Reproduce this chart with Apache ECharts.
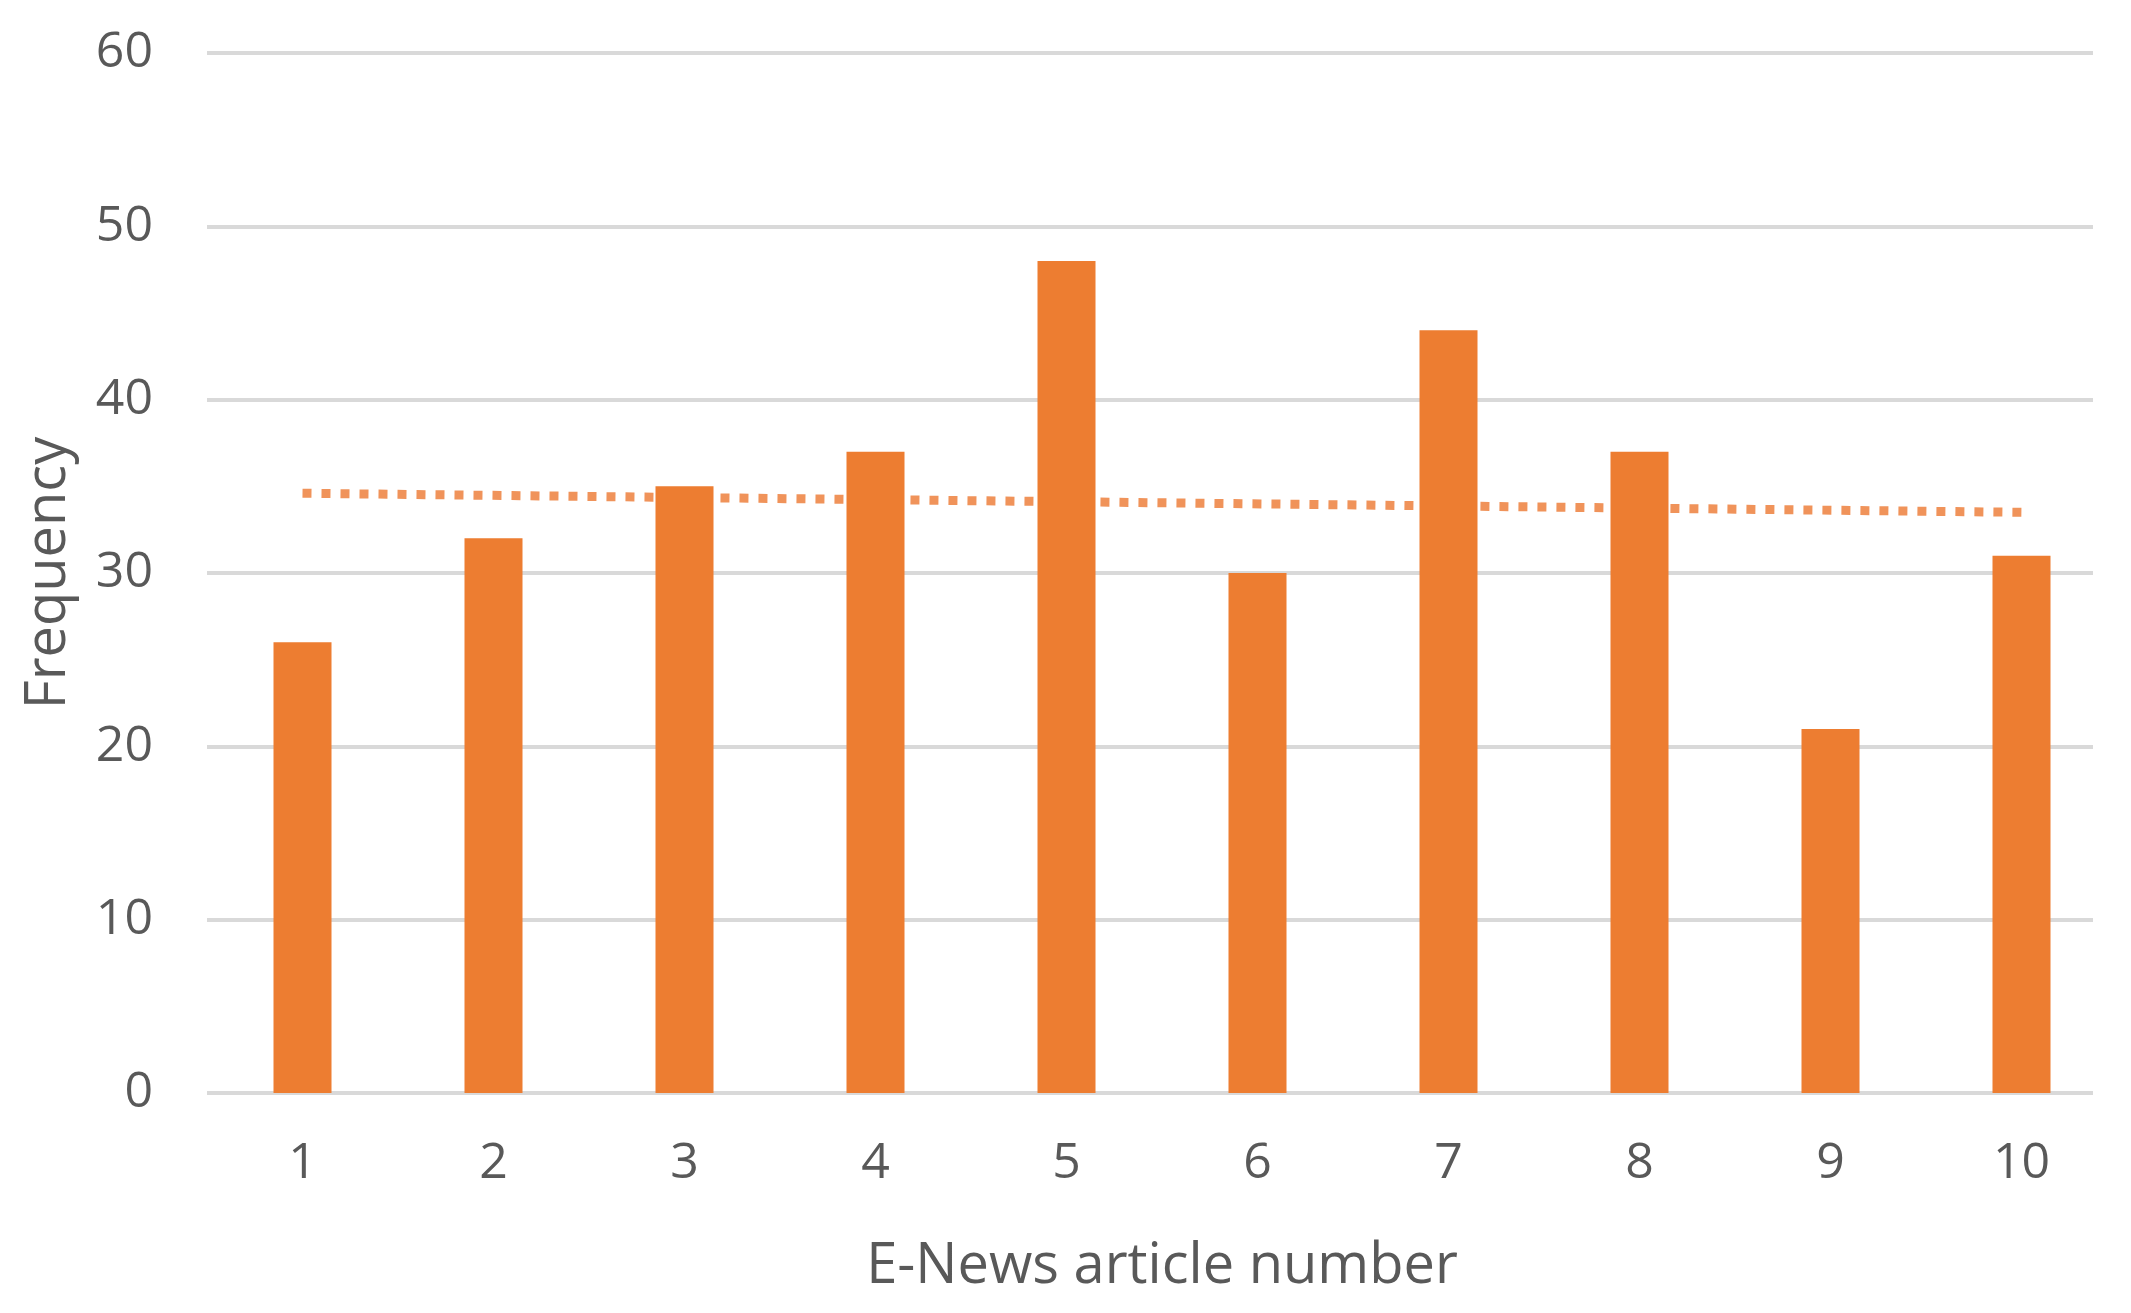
<!DOCTYPE html>
<html>
<head>
<meta charset="utf-8">
<script src="https://cdn.jsdelivr.net/npm/echarts@6/dist/echarts.min.js"></script>
<style>
    html, body { margin: 0; padding: 0; background: #fff; }
    #chart { width: 2131px; height: 1313px; }
</style>
</head>
<body>
<div id="chart"></div>
<script>
// article numbers on the x axis
const articles = ['1', '2', '3', '4', '5', '6', '7', '8', '9', '10'];
// frequency per article
const frequency = [26, 32, 35, 37, 48, 30, 44, 37, 21, 31];
// linear trendline, read at first and last article
const trendStart = 34.6;
const trendEnd = 33.5;
// y ticks
const yMin = 0, yMax = 60, yStep = 10;

const textColor = '#595959';
const font = '"Open Sans", "Liberation Sans", sans-serif';

const chart = echarts.init(document.getElementById('chart'));
chart.setOption({
    animation: false,
    backgroundColor: '#fff',
    grid: [
        // bars and labels
        { left: 207, right: 14, top: 53, bottom: 220 },
        // gridlines only (the plot area stops a bit short of the last band)
        { left: 207, right: 38, top: 53, bottom: 220 }
    ],
    xAxis: [
        {
            type: 'category',
            gridIndex: 0,
            data: articles,
            name: 'E-News article number',
            nameLocation: 'middle',
            nameGap: 146,
            nameTextStyle: { color: textColor, fontSize: 56, fontFamily: font },
            axisLine: { show: false },
            axisTick: { show: false },
            axisLabel: { color: textColor, fontSize: 50, fontFamily: font, margin: 46 }
        },
        { type: 'category', gridIndex: 1, data: articles, show: false }
    ],
    yAxis: [
        {
            type: 'value',
            gridIndex: 0,
            min: yMin,
            max: yMax,
            interval: yStep,
            name: 'Frequency',
            nameLocation: 'middle',
            nameGap: 130,
            nameTextStyle: { color: textColor, fontSize: 56, fontFamily: font },
            axisLine: { show: false },
            axisTick: { show: false },
            axisLabel: { color: textColor, fontSize: 50, fontFamily: font, margin: 54 },
            splitLine: { show: false }
        },
        {
            type: 'value',
            gridIndex: 1,
            min: yMin,
            max: yMax,
            interval: yStep,
            axisLine: { show: false },
            axisTick: { show: false },
            axisLabel: { show: false },
            splitLine: { lineStyle: { color: '#d9d9d9', width: 4 } }
        }
    ],
    series: [
        {
            type: 'line',
            xAxisIndex: 0,
            yAxisIndex: 0,
            z: 3,
            data: [[articles[0], trendStart], [articles[articles.length - 1], trendEnd]],
            symbol: 'none',
            lineStyle: { color: '#F0935A', width: 9, type: [9, 10], cap: 'butt' }
        },
        {
            type: 'bar',
            xAxisIndex: 0,
            yAxisIndex: 0,
            z: 4,
            data: frequency,
            barWidth: 58,
            itemStyle: { color: '#ED7D31' }
        }
    ]
});
</script>
</body>
</html>
